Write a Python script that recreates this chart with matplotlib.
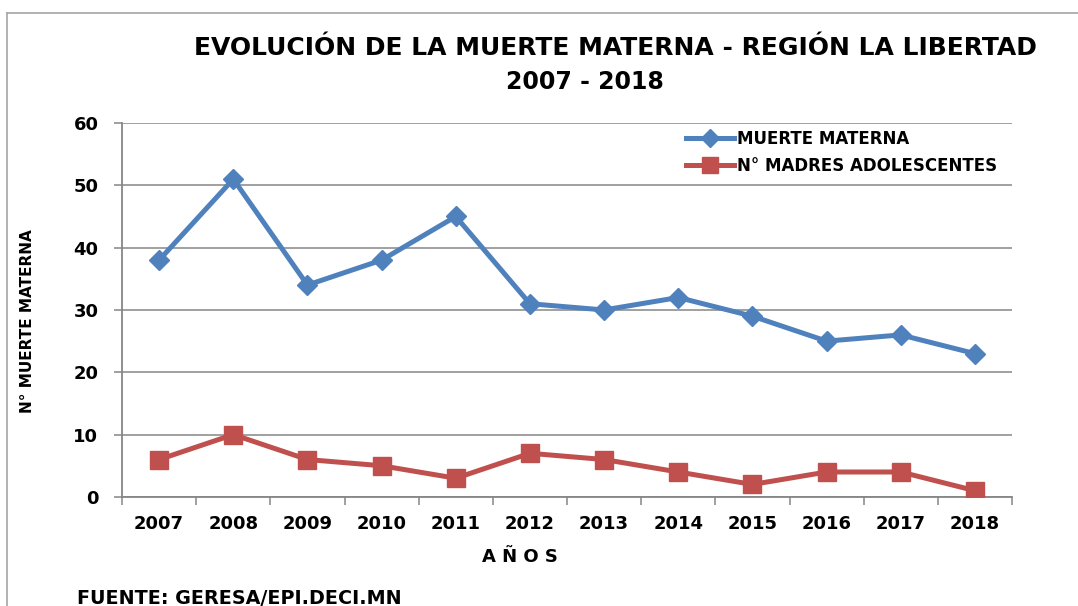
import matplotlib.pyplot as plt
from matplotlib.lines import Line2D
import numpy as np

years = ['2007', '2008', '2009', '2010', '2011', '2012', '2013', '2014', '2015', '2016', '2017', '2018']
muerte_materna = [38, 51, 34, 38, 45, 31, 30, 32, 29, 25, 26, 23]
madres_adolescentes = [6, 10, 6, 5, 3, 7, 6, 4, 2, 4, 4, 1]

plt.rcParams['font.family'] = ['DejaVu Sans']
plt.rcParams['font.weight'] = 'bold'

fig = plt.figure(figsize=(10.78, 6.06), dpi=100)
ax = fig.add_axes([0.1132, 0.180, 0.8256, 0.617])

x = np.arange(len(years))
grid_c = '#868686'

ax.plot(x, muerte_materna, color='#4F81BD', lw=3.6, marker='D', ms=10.5,
        label='MUERTE MATERNA', zorder=3)
ax.plot(x, madres_adolescentes, color='#C0504D', lw=3.6, marker='s', ms=13.5,
        label='N° MADRES ADOLESCENTES', zorder=3)

ax.set_xlim(-0.5, len(years) - 0.5)
ax.set_ylim(0, 60)
ax.set_yticks(range(0, 61, 10))
ax.yaxis.grid(True, color=grid_c, lw=1.1)
ax.set_axisbelow(True)

ax.set_xticks(x)
ax.set_xticklabels(years)
ax.set_xticks(np.arange(-0.5, len(years)), minor=True)
ax.tick_params(axis='x', which='major', length=0, pad=13, labelsize=13)
ax.tick_params(axis='x', which='minor', length=6, color=grid_c, width=1.1)
ax.tick_params(axis='y', length=6, color=grid_c, width=1.1, pad=11, labelsize=13)

for s in ['top', 'right']:
    ax.spines[s].set_visible(False)
for s in ['left', 'bottom']:
    ax.spines[s].set_color(grid_c)
    ax.spines[s].set_linewidth(1.3)

ax.set_xlabel('A Ñ O S', fontsize=13, fontweight='bold')
ax.xaxis.set_label_coords(0.447, -0.137)
ax.set_ylabel('N° MUERTE MATERNA', fontsize=11, fontweight='bold', labelpad=0)
ax.yaxis.set_label_coords(-0.098, 0.47)

fig.text(0.571, 0.921, 'EVOLUCIÓN DE LA MUERTE MATERNA - REGIÓN LA LIBERTAD',
         ha='center', va='center', fontsize=18, fontweight='bold')
fig.text(0.543, 0.865, '2007 - 2018', ha='center', va='center',
         fontsize=17, fontweight='bold')

fig.text(0.071, 0.013, 'FUENTE: GERESA/EPI.DECI.MN', ha='left', va='center',
         fontsize=13.8, fontweight='bold')

ax.legend(loc='center left', bbox_to_anchor=(0.630, 0.748), bbox_transform=fig.transFigure,
          frameon=False, fontsize=12, handlelength=2.9, handletextpad=0.2,
          labelspacing=0.55, borderaxespad=0, markerscale=0.85)

# outer chart frame
fig.add_artist(Line2D([0.0065, 0.0065], [0, 0.979], color='#A6A6A6', lw=1.2))
fig.add_artist(Line2D([0.0065, 1.0], [0.979, 0.979], color='#A6A6A6', lw=1.2))

fig.savefig('out.png', dpi=100)
